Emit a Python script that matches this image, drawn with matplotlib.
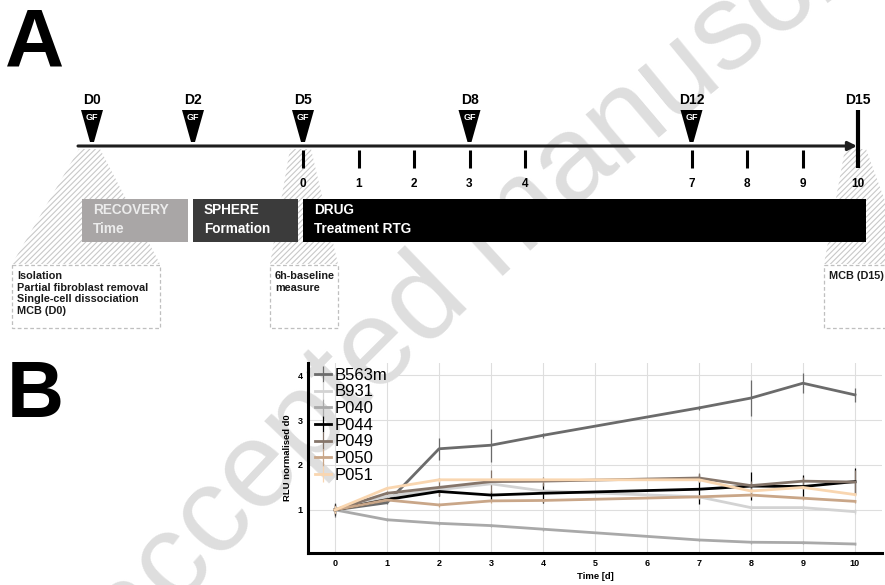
import numpy as np
import matplotlib
matplotlib.use("Agg")
import matplotlib.pyplot as plt
from matplotlib.patches import Polygon, Rectangle
from matplotlib.textpath import text_to_path
from matplotlib.font_manager import FontProperties

plt.rcParams['font.family'] = ['Liberation Sans', 'DejaVu Sans']
plt.rcParams['hatch.linewidth'] = 0.8

# --- A: experimental timeline -------------------------------------------
gf_days = [0, 2, 5, 8, 12]           # growth factor additions (culture day)
end_day = 15
drug_days = [0, 1, 2, 3, 4, 7, 8, 9, 10]   # measurement days after drug start
phase_names = ['RECOVERY', 'SPHERE', 'DRUG']
phase_subs = ['Time', 'Formation', 'Treatment RTG']
phase_start = [0, 2, 5]
phase_end = [2, 5, 15]
phase_colors = ['#a9a6a6', '#3b3b3b', '#000000']
phase_text = ['#ececec', 'white', 'white']
note_days = [0, 5, 15]
note_texts = ['Isolation\nPartial fibroblast removal\nSingle-cell dissociation\nMCB (D0)',
              '6h-baseline\nmeasure',
              'MCB (D15)']

# --- B: luminescence normalised to day 0 --------------------------------
days = [0, 1, 2, 3, 4, 7, 8, 9, 10]
names = ['B563m', 'B931', 'P040', 'P044', 'P049', 'P050', 'P051']
b563m = [1.00, 1.16, 2.36, 2.44, 2.66, 3.27, 3.49, 3.82, 3.56]
b931 = [1.00, 1.30, 1.45, 1.58, 1.42, 1.29, 1.05, 1.05, 0.96]
p040 = [1.00, 0.78, 0.70, 0.65, 0.57, 0.33, 0.28, 0.27, 0.24]
p044 = [1.00, 1.23, 1.41, 1.33, 1.37, 1.46, 1.53, 1.52, 1.63]
p049 = [1.00, 1.37, 1.50, 1.63, 1.64, 1.71, 1.54, 1.64, 1.62]
p050 = [1.00, 1.22, 1.11, 1.20, 1.21, 1.29, 1.33, 1.26, 1.19]
p051 = [1.00, 1.48, 1.67, 1.67, 1.67, 1.67, 1.42, 1.50, 1.34]
b563m_sd = [0.15, 0.04, 0.25, 0.37, 0.05, 0.05, 0.41, 0.22, 0.16]
b931_sd = [0.08, 0.05, 0.05, 0.05, 0.05, 0.05, 0.05, 0.05, 0.05]
p040_sd = [0.08, 0.03, 0.03, 0.03, 0.03, 0.03, 0.03, 0.03, 0.03]
p044_sd = [0.12, 0.06, 0.10, 0.10, 0.22, 0.33, 0.32, 0.25, 0.30]
p049_sd = [0.10, 0.05, 0.20, 0.25, 0.10, 0.10, 0.10, 0.10, 0.27]
p050_sd = [0.08, 0.04, 0.04, 0.04, 0.04, 0.04, 0.04, 0.04, 0.04]
p051_sd = [0.08, 0.04, 0.04, 0.04, 0.04, 0.04, 0.04, 0.04, 0.04]
series = [b563m, b931, p040, p044, p049, p050, p051]
errors = [b563m_sd, b931_sd, p040_sd, p044_sd, p049_sd, p050_sd, p051_sd]
colors = ['#6b6b6b', '#d3d3d3', '#a9a9a9', '#000000', '#85756a', '#c9a688', '#f9d6b0']

fig = plt.figure(figsize=(8.85, 5.85), dpi=100)
ov = fig.add_axes([0, 0, 1, 1])
ov.set_xlim(0, 885)
ov.set_ylim(585, 0)
ov.axis('off')


def xpx(d):
    # schematic day axis: pre-drug days are squeezed
    return np.interp(d, [0, 2, 5, 15], [92, 193, 303, 858])


# watermark, letters laid along a gentle curve
wm = 'accepted manuscript'
wm_size = 88
fp = FontProperties(family='Liberation Sans', size=wm_size)
def wpx(s):
    return text_to_path.get_text_width_height_descent(s, fp, ismath=False)[0] * 100 / 72
p0, p1, p2 = np.array([41, 713]), np.array([535, 125]), np.array([1025, -175])
t = np.linspace(0, 1, 4000)[:, None]
curve = (1 - t) ** 2 * p0 + 2 * (1 - t) * t * p1 + t ** 2 * p2
seg = np.r_[0, np.cumsum(np.hypot(*np.diff(curve, axis=0).T))]
start = 200 - (wpx(wm[:2]) - wpx('c') / 2)
for i, ch in enumerate(wm):
    if ch == ' ':
        continue
    s = start + wpx(wm[:i + 1]) - wpx(ch) / 2
    k = np.searchsorted(seg, s)
    k = min(max(k, 1), len(seg) - 1)
    dx, dy = curve[k] - curve[k - 1]
    ang = np.degrees(np.arctan2(-dy, dx))
    ov.text(curve[k][0], curve[k][1], ch, fontsize=wm_size, color='#dedede',
            rotation=ang, rotation_mode='anchor', ha='center', va='center', zorder=0)

ov.text(5, 65, 'A', fontsize=59, fontweight='bold', va='baseline', zorder=5)
ov.text(7, 417, 'B', fontsize=57, fontweight='bold', va='baseline', zorder=5)

# hatched funnels + dashed note boxes
box_pad = [(80, 68), (33, 35), (34, 50)]
for d, txt, (lp, rp) in zip(note_days, note_texts, box_pad):
    x = xpx(d)
    top = 149
    funnel = Polygon([(x - 13, top), (x + 8, top), (x + rp, 264), (x - lp, 264)],
                     closed=True, facecolor='none', edgecolor='#c8c8c8',
                     linewidth=0, hatch='//////', zorder=1)
    ov.add_patch(funnel)
    ov.add_patch(Rectangle((x - lp, 265), lp + rp, 63, facecolor='white',
                           edgecolor='#bfbfbf', linewidth=0.9, linestyle=(0, (3, 2)), zorder=2))
    ov.text(x - lp + 5, 271, txt, fontsize=7.8, fontweight='bold', color='#1a1a1a',
            va='top', ha='left', linespacing=1.2, zorder=3)

# phase bars
for name, sub, a, b, fc, tc in zip(phase_names, phase_subs, phase_start, phase_end,
                                    phase_colors, phase_text):
    left = xpx(a) - (10 if a == 0 else 0)
    right = xpx(b) + (8 if b == end_day else -5)
    ov.add_patch(Rectangle((left, 199), right - left, 43, facecolor=fc,
                           edgecolor='none', zorder=3))
    ov.text(left + 11, 210, name, fontsize=9.8, fontweight='bold', color=tc,
            va='center', zorder=4)
    ov.text(left + 11, 229, sub, fontsize=9.8, fontweight='bold', color=tc,
            va='center', zorder=4)

# main arrow
ov.annotate('', xy=(857, 146), xytext=(78, 146),
            arrowprops=dict(arrowstyle='-|>', lw=2.2, color='#1e1e1e',
                            mutation_scale=13, shrinkA=0, shrinkB=0), zorder=4)

# growth factor markers
for d in gf_days:
    x = xpx(d)
    ov.add_patch(Polygon([(x - 11, 110), (x + 11, 110), (x + 2, 142), (x - 2, 142)],
                         closed=True, facecolor='black', edgecolor='none', zorder=5))
    ov.text(x, 117, 'GF', fontsize=6.5, fontweight='bold', color='white',
            ha='center', va='center', zorder=6)
    ov.text(x, 100, f'D{d}', fontsize=10, fontweight='bold', ha='center',
            va='center', zorder=6)

# end of culture
ov.plot([xpx(end_day)] * 2, [110, 168], color='black', lw=3, solid_capstyle='butt', zorder=5)
ov.text(xpx(end_day), 100, f'D{end_day}', fontsize=10, fontweight='bold', ha='center',
        va='center', zorder=6)

# drug-day ticks
for d in drug_days:
    x = xpx(d + 5)
    if d != drug_days[-1]:
        ov.plot([x, x], [150, 168], color='black', lw=2.2, solid_capstyle='butt', zorder=5)
    ov.text(x, 184, str(d), fontsize=8.5, fontweight='bold', ha='center',
            va='center', zorder=6)

# --- B: line chart ----------------------------------------------------------
ax = fig.add_axes([308 / 885, 32 / 585, 574 / 885, 190 / 585])
ax.patch.set_alpha(0)
for name, vals, err, c in zip(names, series, errors, colors):
    ax.errorbar(days, vals, yerr=err, color=c, lw=2.0, elinewidth=0.9,
                capsize=0, label=name)

ax.set_xlim(-0.52, 10.52)
ax.set_ylim(0.04, 4.27)
ax.set_xticks(range(0, 11))
ax.set_yticks([1, 2, 3, 4])
ax.grid(True, color='#dedede', lw=0.8)
ax.set_axisbelow(True)
for side in ['top', 'right']:
    ax.spines[side].set_visible(False)
for side in ['left', 'bottom']:
    ax.spines[side].set_linewidth(2.2)
ax.tick_params(length=0, labelsize=6.5, pad=4)
for lab in ax.get_xticklabels() + ax.get_yticklabels():
    lab.set_fontweight('bold')
ax.set_xlabel('Time [d]', fontsize=6.8, fontweight='bold', labelpad=3)
ax.set_ylabel('RLU normalised d0', fontsize=6.8, fontweight='bold', labelpad=4)

ax.legend(loc='upper left', bbox_to_anchor=(0.012, 0.975), frameon=False,
          fontsize=12, handlelength=0.95, handletextpad=0.25, labelspacing=0.1,
          borderpad=0, borderaxespad=0)

fig.savefig('out.png', dpi=100)
